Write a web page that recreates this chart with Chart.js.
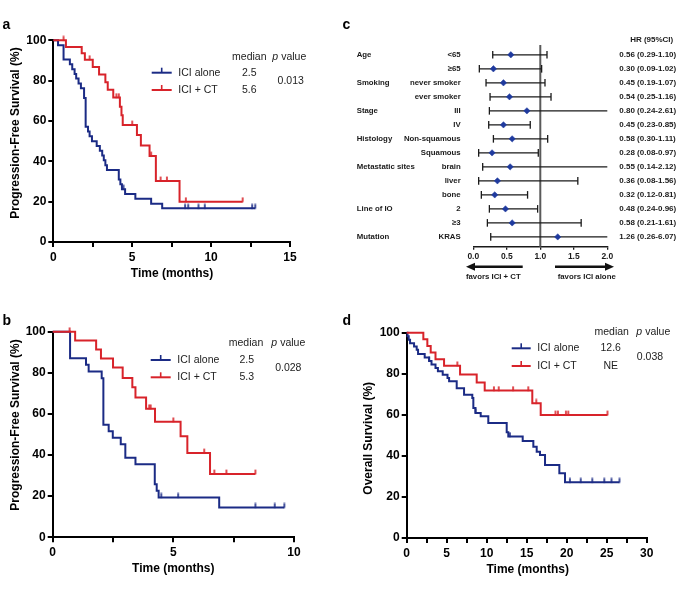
<!DOCTYPE html>
<html>
<head>
<meta charset="utf-8">
<script src="https://cdn.jsdelivr.net/npm/chart.js@4.4.1/dist/chart.umd.min.js"></script>
<style>
html,body{margin:0;padding:0;background:#fff;}
#wrap{position:relative;width:680px;height:598px;overflow:hidden;background:#fff;}
canvas{position:absolute;}
</style>
</head>
<body>
<div id="wrap">
<canvas id="ca" width="340" height="300" style="left:0;top:0;"></canvas>
<canvas id="cc" width="340" height="300" style="left:340px;top:0;"></canvas>
<canvas id="cb" width="340" height="298" style="left:0;top:300px;"></canvas>
<canvas id="cd" width="340" height="298" style="left:340px;top:300px;"></canvas>
</div>
<script>
// ================= DATA =================
const seriesNames = ['ICI alone', 'ICI + CT'];

// Panel a: PFS
const aAloneT = [0, 0.3, 0.65, 1.05, 1.2, 1.35, 1.45, 1.6, 1.75, 1.95, 2.05, 2.2, 2.3, 2.45, 2.75, 2.95, 3.1, 3.2, 3.3, 3.4, 4.15, 4.25, 4.35, 4.55, 5.2, 6.2, 6.9];
const aAloneS = [100, 97.6, 90.5, 88.1, 85.7, 83.3, 81.0, 78.6, 76.2, 71.4, 57.1, 54.8, 52.4, 50.0, 47.6, 45.2, 42.9, 40.5, 38.1, 35.7, 31.0, 28.6, 26.2, 23.8, 21.4, 19.0, 16.7];
const aAloneEnd = 12.8;
const aAloneCens = [4.45, 8.35, 8.55, 9.2, 9.6, 12.6, 12.8];
const aCombT = [0, 0.8, 1.8, 2.0, 2.5, 2.9, 3.3, 3.45, 3.8, 4.22, 4.32, 4.4, 5.3, 5.55, 6.1, 6.5, 8.0];
const aCombS = [100, 96.7, 93.6, 90.4, 86.8, 83.0, 79.2, 75.5, 71.6, 67.0, 62.8, 58.0, 53.1, 47.9, 42.6, 30.3, 20.0];
const aCombEnd = 12.0;
const aCombCens = [0.65, 2.3, 4.0, 4.15, 5.0, 6.2, 6.8, 7.2, 8.4, 12.0];
const aMedians = ['2.5', '5.6'];
const aPval = '0.013';

// Panel b: PFS
const bAloneT = [0, 0.72, 1.38, 1.49, 2.03, 2.1, 2.32, 2.49, 2.82, 3.01, 3.43, 4.23, 4.31, 4.39, 6.9];
const bAloneS = [100, 87.1, 83.9, 80.6, 77.4, 54.8, 51.6, 48.4, 45.2, 38.7, 35.5, 25.8, 22.6, 19.4, 14.5];
const bAloneEnd = 9.6;
const bAloneCens = [4.5, 5.2, 8.4, 9.2, 9.6];
const bCombT = [0, 0.93, 1.8, 2.0, 2.5, 2.9, 3.3, 3.43, 3.87, 4.24, 5.3, 5.58, 6.52];
const bCombS = [100, 95.7, 91.3, 87.0, 82.6, 77.5, 73.0, 68.0, 62.5, 56.2, 49.2, 41.0, 30.8];
const bCombEnd = 8.4;
const bCombCens = [0.7, 4.0, 4.06, 5.0, 6.28, 6.7, 7.2, 8.4];
const bMedians = ['2.5', '5.3'];
const bPval = '0.028';

// Panel d: OS
const dAloneT = [0, 0.1, 0.25, 0.42, 0.92, 1.25, 1.42, 2.25, 2.8, 3.1, 3.6, 3.9, 4.5, 5.1, 5.3, 6.25, 7.17, 8.2, 8.33, 8.6, 9.25, 10.2, 12.5, 12.7, 14.5, 15.83, 16.25, 16.66, 17.29, 19.08, 19.79];
const dAloneS = [100, 98.3, 96.6, 94.9, 93.3, 91.7, 89.6, 87.9, 86.2, 84.5, 82.8, 81.2, 79.5, 77.9, 76.3, 73.0, 69.8, 68.2, 63.3, 60.9, 59.3, 56.0, 51.5, 49.4, 47.2, 44.5, 42.0, 40.4, 35.6, 31.5, 27.1];
const dAloneEnd = 26.6;
const dAloneCens = [2.8, 8.6, 12.9, 20.4, 21.75, 23.2, 24.7, 25.6, 26.6];
const dCombT = [0, 2.08, 2.58, 3.0, 3.6, 4.67, 6.67, 8.75, 9.75, 15.7, 16.75];
const dCombS = [100, 96.8, 93.5, 90.3, 87.1, 83.9, 79.7, 75.8, 71.8, 65.6, 59.9];
const dCombEnd = 25.1;
const dCombCens = [6.33, 10.9, 11.5, 13.3, 15.2, 16.2, 18.6, 18.9, 19.9, 20.2, 25.1];
const dMedians = ['12.6', 'NE'];
const dPval = '0.038';

// Panel c: forest plot
const fGroups = ['Age', '', 'Smoking', '', 'Stage', '', 'Histology', '', 'Metastatic sites', '', '', 'Line of IO', '', 'Mutation'];
const fSub = ['<65', '\u226565', 'never smoker', 'ever smoker', 'III', 'IV', 'Non-squamous', 'Squamous', 'brain', 'liver', 'bone', '2', '\u22653', 'KRAS'];
const fHR = [0.56, 0.30, 0.45, 0.54, 0.80, 0.45, 0.58, 0.28, 0.55, 0.36, 0.32, 0.48, 0.58, 1.26];
const fLo = [0.29, 0.09, 0.19, 0.25, 0.24, 0.23, 0.30, 0.08, 0.14, 0.08, 0.12, 0.24, 0.21, 0.26];
const fHi = [1.10, 1.02, 1.07, 1.16, 2.61, 0.85, 1.11, 0.97, 2.12, 1.56, 0.81, 0.96, 1.61, 6.07];
const fRef = 1.0;
const fXMin = 0, fXMax = 2.0, fXStep = 0.5;

// ================= DRAWING =================
const FF = "'Liberation Sans', Arial, Helvetica, sans-serif";
Chart.defaults.font.family = FF;
Chart.defaults.color = '#000';
const BLUE = '#1b2b85', RED = '#d8232a';

function censorMark(color) {
  const c = document.createElement('canvas');
  c.width = 4; c.height = 10;
  const g = c.getContext('2d');
  g.fillStyle = color;
  g.fillRect(1.2, 0.6, 1.6, 4.8);
  return c;
}
function survAt(T, S, t) {
  let v = S[0];
  for (let i = 0; i < T.length; i++) { if (T[i] <= t) v = S[i]; }
  return v;
}
function drawPValue(ctx, cx, y, size) {
  ctx.font = `italic ${size}px ${FF}`; const w1 = ctx.measureText('p').width;
  ctx.font = `${size}px ${FF}`; const w2 = ctx.measureText(' value').width;
  const x = cx - (w1 + w2) / 2;
  ctx.textAlign = 'left';
  ctx.font = `italic ${size}px ${FF}`; ctx.fillText('p', x, y);
  ctx.font = `${size}px ${FF}`; ctx.fillText(' value', x + w1, y);
}

function makeKM(id, P) {
  const ds = [];
  P.series.forEach((s, k) => {
    const pts = s.t.map((t, i) => ({ x: t, y: s.s[i] }));
    pts.push({ x: s.end, y: s.s[s.s.length - 1] });
    ds.push({ data: pts, showLine: true, stepped: 'before', borderColor: s.color, borderWidth: 2,
      pointRadius: 0, clip: false, order: 2 - k, borderCapStyle: 'butt', borderJoinStyle: 'miter' });
    ds.push({ data: s.cens.map(c => ({ x: c, y: survAt(s.t, s.s, c) })), showLine: false,
      pointStyle: censorMark(s.color), pointRadius: 3, clip: false, order: 2 - k });
  });
  const A = P.area, W = P.W, H = P.H;
  const gridC = { display: true, drawOnChartArea: false, drawTicks: true, tickLength: 5, color: '#000', lineWidth: 2 };
  const borderC = { display: true, color: '#000', width: 2 };
  new Chart(document.getElementById(id), {
    type: 'scatter',
    data: { datasets: ds },
    options: {
      responsive: false, animation: false, devicePixelRatio: 1, events: [],
      layout: { padding: { left: 0, right: W - A.r, top: A.t, bottom: H - A.b - 30 } },
      plugins: { legend: { display: false }, tooltip: { enabled: false } },
      scales: {
        x: { type: 'linear', min: 0, max: P.xMax, afterFit: s => { s.height = 30; },
          ticks: { stepSize: 2.5, autoSkip: false, maxRotation: 0, padding: 3, color: '#000',
            font: { size: 12, weight: 'bold' }, callback: v => (v % 5 === 0 ? String(v) : '') },
          grid: gridC, border: borderC },
        y: { type: 'linear', min: 0, max: 100, afterFit: s => { s.width = A.l; },
          ticks: { stepSize: 20, padding: 2, color: '#000', font: { size: 12, weight: 'bold' } },
          grid: gridC, border: borderC }
      }
    },
    plugins: [{
      id: 'kmText',
      afterDraw(chart) {
        const ctx = chart.ctx;
        ctx.save();
        ctx.fillStyle = '#000';
        // panel letter
        ctx.font = `bold 14px ${FF}`; ctx.textAlign = 'left'; ctx.textBaseline = 'alphabetic';
        ctx.fillText(P.letter, P.letterPos[0], P.letterPos[1]);
        // axis titles
        ctx.font = `bold 12px ${FF}`; ctx.textAlign = 'center'; ctx.textBaseline = 'middle';
        ctx.fillText('Time (months)', P.xTitle[0], P.xTitle[1]);
        ctx.save(); ctx.translate(P.yTitle[0], P.yTitle[1]); ctx.rotate(-Math.PI / 2);
        ctx.fillText(P.yTitleText, 0, 0); ctx.restore();
        // legend block
        const L = P.leg;
        ctx.fillStyle = '#222';
        ctx.textBaseline = 'middle';
        ctx.font = `10.5px ${FF}`; ctx.textAlign = 'center';
        ctx.fillText('median', L.medHx, L.hy);
        drawPValue(ctx, L.pHx, L.hy, 10.5);
        P.series.forEach((s, i) => {
          const y = L.rows[i];
          ctx.strokeStyle = s.color; ctx.lineWidth = 2;
          ctx.beginPath(); ctx.moveTo(L.lx1, y); ctx.lineTo(L.lx2, y); ctx.stroke();
          ctx.fillStyle = s.color;
          ctx.fillRect((L.lx1 + L.lx2) / 2 - 0.8, y - 5, 1.6, 5);
          ctx.fillStyle = '#222';
          ctx.font = `10.5px ${FF}`; ctx.textAlign = 'left';
          ctx.fillText(seriesNames[i], L.tx, y);
          ctx.textAlign = 'center';
          ctx.fillText(P.medians[i], L.medx, y);
        });
        ctx.textAlign = 'center';
        ctx.fillText(P.pval, L.pvx, L.pvy);
        ctx.restore();
      }
    }]
  });
}

// Panel a
makeKM('ca', {
  W: 340, H: 300, area: { l: 53.3, r: 290, t: 40.3, b: 242 }, xMax: 15,
  letter: 'a', letterPos: [2.5, 28.5],
  yTitleText: 'Progression-Free Survival (%)', yTitle: [16, 133], xTitle: [172, 273.3],
  series: [
    { t: aAloneT, s: aAloneS, end: aAloneEnd, cens: aAloneCens, color: BLUE },
    { t: aCombT, s: aCombS, end: aCombEnd, cens: aCombCens, color: RED }
  ],
  medians: aMedians, pval: aPval,
  leg: { hy: 56.7, medHx: 249.3, pHx: 289.3, rows: [72.7, 90], lx1: 151.7, lx2: 171.7, tx: 178.3, medx: 249.3, pvx: 290.7, pvy: 81.3 }
});

// Panel b
makeKM('cb', {
  W: 340, H: 298, area: { l: 52.7, r: 294, t: 31.7, b: 237.3 }, xMax: 10,
  letter: 'b', letterPos: [2.5, 25],
  yTitleText: 'Progression-Free Survival (%)', yTitle: [16, 125], xTitle: [173.3, 268.3],
  series: [
    { t: bAloneT, s: bAloneS, end: bAloneEnd, cens: bAloneCens, color: BLUE },
    { t: bCombT, s: bCombS, end: bCombEnd, cens: bCombCens, color: RED }
  ],
  medians: bMedians, pval: bPval,
  leg: { hy: 43.3, medHx: 246, pHx: 288.3, rows: [60, 77.3], lx1: 150.7, lx2: 170.7, tx: 177.3, medx: 246.7, pvx: 288.3, pvy: 68.3 }
});

// Panel d
makeKM('cd', {
  W: 340, H: 298, area: { l: 66.7, r: 306.7, t: 32.7, b: 238 }, xMax: 30,
  letter: 'd', letterPos: [2.5, 25],
  yTitleText: 'Overall Survival (%)', yTitle: [28.5, 138.3], xTitle: [187.7, 269.3],
  series: [
    { t: dAloneT, s: dAloneS, end: dAloneEnd, cens: dAloneCens, color: BLUE },
    { t: dCombT, s: dCombS, end: dCombEnd, cens: dCombCens, color: RED }
  ],
  medians: dMedians, pval: dPval,
  leg: { hy: 31.7, medHx: 271.7, pHx: 313.3, rows: [48.3, 66], lx1: 171.7, lx2: 190.7, tx: 197.3, medx: 270.7, pvx: 310, pvy: 56.7 }
});

// Panel c: forest plot
(function () {
  const yMin = -0.7, yMax = fSub.length - 0.3;
  const ds = [];
  ds.push({ data: [{ x: fRef, y: yMin }, { x: fRef, y: yMax }], showLine: true, borderColor: '#5a5a5a',
    borderWidth: 2, pointRadius: 0, clip: false, order: 10 });
  fSub.forEach((_, i) => {
    const clipped = fHi[i] > fXMax;
    ds.push({ data: [{ x: fLo[i], y: i }, { x: Math.min(fHi[i], fXMax), y: i }], showLine: true,
      borderColor: '#1a1a1a', borderWidth: 1.3, pointStyle: 'line', rotation: 90,
      pointRadius: [3.8, clipped ? 0 : 3.8], pointBorderColor: '#1a1a1a', pointBorderWidth: 1.3,
      clip: false, order: 5 });
  });
  ds.push({ data: fHR.map((h, i) => ({ x: h, y: i })), showLine: false, pointStyle: 'rectRot',
    pointRadius: 3.2, backgroundColor: '#1f3a9e', borderColor: '#1f3a9e', borderWidth: 0.5, clip: false, order: 0 });

  const W = 340, H = 300, A = { l: 133.3, r: 267.3, t: 45, b: 246.7 };
  new Chart(document.getElementById('cc'), {
    type: 'scatter',
    data: { datasets: ds },
    options: {
      responsive: false, animation: false, devicePixelRatio: 1, events: [],
      layout: { padding: { left: A.l, right: W - A.r, top: A.t, bottom: H - A.b - 20 } },
      plugins: { legend: { display: false }, tooltip: { enabled: false } },
      scales: {
        x: { type: 'linear', min: fXMin, max: fXMax, afterFit: s => { s.height = 20; },
          ticks: { stepSize: fXStep, autoSkip: false, maxRotation: 0, padding: 2, color: '#1a1a1a',
            font: { size: 8.5, weight: 'bold' }, callback: v => Number(v).toFixed(1) },
          grid: { display: true, drawOnChartArea: false, drawTicks: true, tickLength: 3, color: '#1a1a1a', lineWidth: 1.3 },
          border: { display: true, color: '#1a1a1a', width: 1.5 } },
        y: { type: 'linear', min: yMin, max: yMax, reverse: true, display: false }
      }
    },
    plugins: [{
      id: 'forestText',
      afterDraw(chart) {
        const ctx = chart.ctx, ys = chart.scales.y, xs = chart.scales.x;
        ctx.save();
        ctx.fillStyle = '#000';
        ctx.font = `bold 14px ${FF}`; ctx.textAlign = 'left'; ctx.textBaseline = 'alphabetic';
        ctx.fillText('c', 2.5, 29.3);
        ctx.fillStyle = '#1a1a1a';
        ctx.textBaseline = 'middle';
        ctx.font = `bold 8px ${FF}`; ctx.textAlign = 'center';
        ctx.fillText('HR (95%CI)', 311.7, 39.3);
        fSub.forEach((lab, i) => {
          const y = ys.getPixelForValue(i);
          ctx.font = `bold 7.8px ${FF}`;
          if (fGroups[i]) { ctx.textAlign = 'left'; ctx.fillText(fGroups[i], 16.7, y); }
          ctx.textAlign = 'right'; ctx.fillText(lab, 120.7, y);
          ctx.font = `bold 8px ${FF}`; ctx.textAlign = 'left';
          ctx.fillText(`${fHR[i].toFixed(2)} (${fLo[i].toFixed(2)}-${fHi[i].toFixed(2)})`, 279.3, y);
        });
        // arrows
        const ay = 266.7;
        const arrow = (x1, x2, dir) => {
          ctx.strokeStyle = '#111'; ctx.fillStyle = '#111'; ctx.lineWidth = 2.4;
          const tip = dir < 0 ? x1 : x2, base = tip - dir * 9;
          ctx.beginPath();
          if (dir < 0) { ctx.moveTo(base, ay); ctx.lineTo(x2, ay); } else { ctx.moveTo(x1, ay); ctx.lineTo(base, ay); }
          ctx.stroke();
          ctx.beginPath(); ctx.moveTo(tip, ay); ctx.lineTo(base, ay - 4); ctx.lineTo(base, ay + 4); ctx.closePath(); ctx.fill();
        };
        arrow(126, 182.7, -1);
        arrow(215, 274, 1);
        ctx.fillStyle = '#1a1a1a';
        ctx.font = `bold 7.8px ${FF}`; ctx.textAlign = 'center';
        ctx.fillText('favors ICI + CT', 153.3, 277);
        ctx.fillText('favors ICI alone', 246.7, 277);
        ctx.restore();
      }
    }]
  });
})();
</script>
</body>
</html>
